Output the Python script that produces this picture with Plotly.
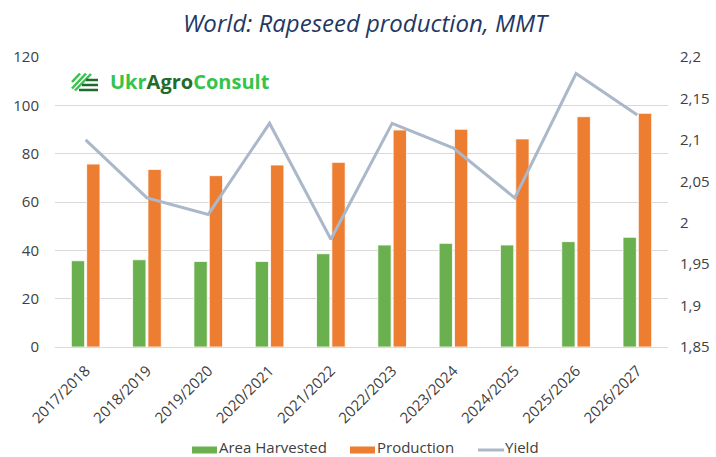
import plotly.graph_objects as go

categories = ["2017/2018", "2018/2019", "2019/2020", "2020/2021", "2021/2022",
              "2022/2023", "2023/2024", "2024/2025", "2025/2026", "2026/2027"]
area_harvested = [35.7, 36.1, 35.4, 35.4, 38.6, 42.2, 42.9, 42.2, 43.6, 45.4]
production = [75.7, 73.5, 70.9, 75.3, 76.4, 89.8, 90.1, 86.1, 95.3, 96.7]
yield_vals = [2.10, 2.03, 2.01, 2.12, 1.98, 2.12, 2.09, 2.03, 2.18, 2.13]

left_ticks = [0, 20, 40, 60, 80, 100, 120]
right_ticks = [1.85, 1.9, 1.95, 2.0, 2.05, 2.1, 2.15, 2.2]
right_labels = ["1,85", "1,9", "1,95", "2", "2,05", "2,1", "2,15", "2,2"]

GREEN, ORANGE, GREY = "#6AB04F", "#ED7D31", "#ABB8CA"
TXT = "#404040"

W, H = 716, 457
ML, MR, MT, MB = 55, 48, 57, 110
PW, PH = W - ML - MR, H - MT - MB

fig = go.Figure()
fig.add_trace(go.Bar(x=categories, y=area_harvested, name="Area Harvested",
                     marker=dict(color=GREEN, line=dict(color="#FFFFFF", width=0.8))))
fig.add_trace(go.Bar(x=categories, y=production, name="Production",
                     marker=dict(color=ORANGE, line=dict(color="#FFFFFF", width=0.8))))
fig.add_trace(go.Scatter(x=categories, y=yield_vals, name="Yield", yaxis="y2",
                         mode="lines", line=dict(color=GREY, width=3)))

def px(x):
    return (x - ML) / PW

def py(y):
    return (H - MB - y) / PH

shapes = []
# logo icon: diagonal light-green strokes
for (x0, y0, x1, y1) in [(72, 82, 80, 73.5), (72, 88.5, 86, 73.5), (75, 90.5, 91, 74)]:
    shapes.append(dict(type="line", xref="paper", yref="paper",
                       x0=px(x0), y0=py(y0), x1=px(x1), y1=py(y1),
                       line=dict(color="#35C44A", width=2.5)))
# dark-green horizontal strokes
for (x0, yy) in [(86, 80), (82, 85), (79, 90)]:
    shapes.append(dict(type="line", xref="paper", yref="paper",
                       x0=px(x0), y0=py(yy), x1=px(98), y1=py(yy),
                       line=dict(color="#1F6B2C", width=2.5)))

# custom legend (bottom)
LY = 450
legend_items = [("rect", GREEN, 192, "Area Harvested"),
                ("rect", ORANGE, 350, "Production"),
                ("line", GREY, 478, "Yield")]
annotations = []
for kind, col, x0, label in legend_items:
    if kind == "rect":
        shapes.append(dict(type="rect", xref="paper", yref="paper",
                           x0=px(x0), x1=px(x0 + 25), y0=py(LY + 3.5), y1=py(LY - 3.5),
                           fillcolor=col, line=dict(width=0)))
    else:
        shapes.append(dict(type="line", xref="paper", yref="paper",
                           x0=px(x0), x1=px(x0 + 26), y0=py(LY), y1=py(LY),
                           line=dict(color=col, width=3)))
    annotations.append(dict(text=label, xref="paper", yref="paper",
                            x=px(x0 + 26), y=py(447), xanchor="left", yanchor="middle",
                            borderpad=0, showarrow=False, font=dict(size=15, color=TXT)))

annotations.append(dict(
    text="<b><span style='color:#35C44A'>Ukr</span><span style='color:#1F6B2C'>Agro</span><span style='color:#35C44A'>Consult</span></b>",
    xref="paper", yref="paper", x=px(108), y=py(82), xanchor="left", yanchor="middle",
    showarrow=False, font=dict(family="Open Sans, sans-serif", size=20)))

fig.update_layout(
    width=W, height=H,
    margin=dict(l=ML, r=MR, t=MT, b=MB, autoexpand=False),
    paper_bgcolor="white", plot_bgcolor="white",
    font=dict(family="Open Sans, sans-serif", color=TXT, size=15),
    title=dict(text="<i>World: Rapeseed production, MMT</i>",
               xref="container", yref="container",
               x=365 / W, xanchor="center",
               y=1 - 23.5 / H, yanchor="middle",
               font=dict(family="Open Sans, sans-serif", size=24, color="#1F3864")),
    barmode="group", bargap=0.5, bargroupgap=0.13,
    showlegend=False,
    xaxis=dict(tickangle=-45, showgrid=False, showline=True, linecolor="#D9D9D9",
               linewidth=1, ticks="", tickfont=dict(size=15, color=TXT),
               ticklabelstandoff=8, automargin=False),
    yaxis=dict(range=[0, 120], tickvals=left_ticks, showgrid=True, gridcolor="#D9D9D9",
               gridwidth=1, zeroline=False, showline=False, ticks="",
               tickfont=dict(size=15, color=TXT), ticklabelstandoff=15, automargin=False),
    yaxis2=dict(range=[1.85, 2.2], tickvals=right_ticks, ticktext=right_labels,
                overlaying="y", side="right", showgrid=False, zeroline=False,
                showline=False, ticks="", tickfont=dict(size=15, color=TXT),
                ticklabelstandoff=11, automargin=False),
    shapes=shapes,
    annotations=annotations,
)

# remove the page's default body margin so the figure fills the window exactly
fig.write_html("out.html",
               config={"displayModeBar": False},
               post_script="document.body.style.margin='0';document.body.style.overflow='hidden';")
